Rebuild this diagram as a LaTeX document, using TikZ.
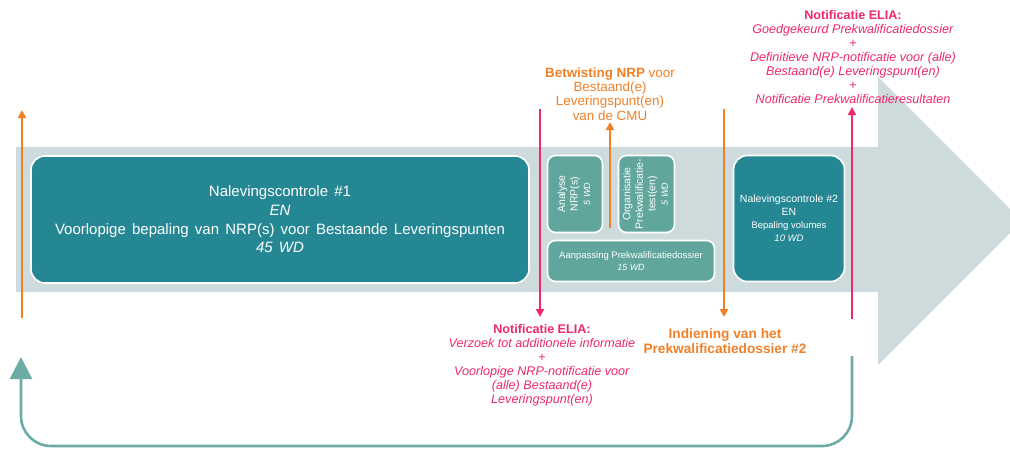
\documentclass[tikz,border=0pt]{standalone}
\usepackage{fontspec}
\setmainfont{Liberation Sans}
\usepackage{xcolor}
\usetikzlibrary{arrows.meta,positioning}

\definecolor{tealdark}{RGB}{37,135,147}
\definecolor{tealgreen}{RGB}{96,166,156}
\definecolor{tealline}{RGB}{108,172,164}
\definecolor{greyband}{RGB}{205,219,221}
\definecolor{eliaorange}{RGB}{240,128,40}
\definecolor{eliapink}{RGB}{238,40,110}

\newcommand{\widespaces}{\spaceskip=6.2pt\relax}

\tikzset{
    bigbox/.style={draw=white, line width=1.6pt, fill=tealdark, text=white,
        rounded corners=14pt, align=center, inner sep=0pt},
    smallbox/.style={draw=white, line width=1.6pt, fill=tealgreen, text=white,
        rounded corners=8pt, align=center, inner sep=0pt},
    pinkarrow/.style={draw=eliapink, line width=2pt, -{Triangle[length=8pt,width=8pt]}},
    orangearrow/.style={draw=eliaorange, line width=2pt, -{Triangle[length=8pt,width=8pt]}},
    pinktext/.style={text=eliapink, align=center, font=\fontsize{12.6}{14}\selectfont},
    orangetext/.style={text=eliaorange, align=center}
}

\begin{document}
\begin{tikzpicture}[x=1pt,y=-1pt]
        \useasboundingbox (0,0) rectangle (1010,451);
        \clip (0,0) rectangle (1010,451);

        % grey band with arrow head
        \fill [greyband] (16,147) -- (878,147) -- (878,77) -- (1022,221)
            -- (878,365) -- (878,292) -- (16,292) -- cycle;

        % blocks
        \node [bigbox, minimum width=498pt, minimum height=127pt,
               font=\fontsize{15}{18.7}\selectfont\widespaces] (nal1) at (280,219.5)
            {Nalevingscontrole \#1\\ \textit{EN}\\
             Voorlopige bepaling van NRP(s) voor Bestaande Leveringspunten\\
             \textit{45 WD}};
        \node [smallbox, minimum width=55pt, minimum height=77pt] (analyse) at (575,194)
            {\rotatebox{90}{\fontsize{10.5}{12.5}\selectfont\begin{tabular}{@{}c@{}}Analyse\\ NRP(s)\\ \fontsize{9}{12.5}\selectfont\textit{5 WD}\end{tabular}}};
        \node [smallbox, minimum width=56pt, minimum height=77pt] (organisatie) at (646.5,194)
            {\rotatebox{90}{\fontsize{10.5}{12.5}\selectfont\begin{tabular}{@{}c@{}}Organisatie\\ Prekwalificatie-\\ test(en)\\ \fontsize{9}{12}\selectfont\textit{5 WD}\end{tabular}}};
        \node [smallbox, minimum width=167pt, minimum height=41pt,
               font=\fontsize{9.5}{12}\selectfont] (aanpassing) at (631,261)
            {Aanpassing Prekwalificatiedossier\\ {\fontsize{9}{12}\selectfont\textit{15 WD}}};
        \node [bigbox, minimum width=111pt, minimum height=126pt,
               font=\fontsize{10.5}{13}\selectfont] (nal2) at (789,218.5)
            {Nalevingscontrole \#2\\ EN\\
             {\fontsize{9.5}{12.5}\selectfont Bepaling volumes}\\ {\fontsize{9.5}{12.5}\selectfont\textit{10 WD}}};

        % texts
        \node [orangetext, font=\fontsize{13.4}{14.3}\selectfont] (betwist) at (610,94)
            {\textbf{Betwisting NRP} voor\\ Bestaand(e)\\ Leveringspunt(en)\\ van de CMU};
        \node [pinktext] (eliatop) at (853,57)
            {\textbf{Notificatie ELIA:}\\ \textit{Goedgekeurd Prekwalificatiedossier}\\ +\\
             \textit{Definitieve NRP-notificatie voor (alle)}\\ \textit{Bestaand(e) Leveringspunt(en)}\\ +\\
             \textit{Notificatie Prekwalificatieresultaten}};
        \node [pinktext] (eliabot) at (542,365.5)
            {\textbf{Notificatie ELIA:}\\ \textit{Verzoek tot additionele informatie}\\ +\\
             \textit{Voorlopige NRP-notificatie voor}\\ \textit{(alle) Bestaand(e)}\\ \textit{Leveringspunt(en)}};
        \node [orangetext, font=\bfseries\fontsize{13.7}{15}\selectfont] (indiening) at (725,341.5)
            {Indiening van het\\ Prekwalificatiedossier \#2};

        % arrow ends
        \coordinate (startlow) at (22,318);
        \coordinate (starttop) at (22,110);
        \coordinate (p1top) at (540,109);
        \coordinate (p1tip) at (540,317);
        \coordinate (o1top) at (724,109);
        \coordinate (o1tip) at (724,317);
        \coordinate (betwbase) at (610,228);
        \coordinate (betwtip) at (610,122);
        \coordinate (p2low) at (852,319);
        \coordinate (p2tip) at (852,107);
        \coordinate (retstart) at (852,356);
        \coordinate (retend) at (21,357);

        \draw [orangearrow] (startlow) -- (starttop);
        \draw [pinkarrow] (p1top) -- (p1tip);
        \draw [orangearrow] (o1top) -- (o1tip);
        \draw [orangearrow] (betwbase) -- (betwtip);
        \draw [pinkarrow] (p2low) -- (p2tip);
        \draw [draw=tealline, line width=2.6pt, rounded corners=30pt,
               -{Triangle[length=22pt,width=22pt]}]
            (retstart) |- (446,446) -| (retend);
\end{tikzpicture}
\end{document}
